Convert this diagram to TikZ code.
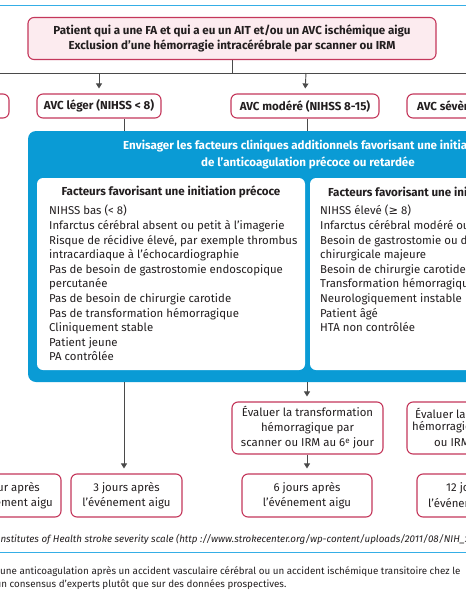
\documentclass[tikz,border=0pt]{standalone}
\usepackage{fontspec}
\setmainfont{Fira Sans}
\newfontfamily\symfont{DejaVu Sans}
\usetikzlibrary{arrows.meta}
\definecolor{crim}{HTML}{C4375B}
\definecolor{pinkf}{HTML}{FCEBEF}
\definecolor{bleu}{HTML}{0A9BD5}
\definecolor{lblue}{HTML}{35AEE6}
\definecolor{txt}{HTML}{231F20}
\definecolor{ln}{HTML}{4A4A4A}
\begin{document}
\begin{tikzpicture}[x=1pt,y=-1pt,
  box/.style={draw=crim, line width=1.1pt, rounded corners=6pt, fill=white, inner sep=0pt, align=center, text=txt},
  pinkbox/.style={box, fill=pinkf},
  conn/.style={draw=ln, line width=0.9pt},
  arr/.style={conn, -{Triangle[length=5pt,width=6pt]}, shorten >=5pt},
  lbl/.style={inner sep=0pt, text=txt},
  bf/.style={font=\fontsize{11.6}{15}\selectfont\bfseries},
  rg/.style={font=\fontsize{11.4}{15}\selectfont},
  hd/.style={lbl, bf},
  body/.style={lbl, align=left, font=\fontsize{11.4}{14.6}\selectfont},
  small/.style={lbl, rg},
  foot/.style={lbl, font=\fontsize{9.8}{13}\selectfont}]
\useasboundingbox (0,0) rectangle (466,600);
\clip (0,0) rectangle (466,600);
\fill[white] (0,0) rectangle (466,600);

% top rule
\coordinate (r0) at (0,5);
\coordinate (r1) at (466,5);
\draw[lblue, line width=1pt] (r0) -- (r1);

% top box
\node[pinkbox, bf, minimum width=408pt, minimum height=42pt] (top) at (232,38.5)
  {Patient qui a une FA et qui a eu un AIT et/ou un AVC ischémique aigu\\Exclusion d’une hémorragie intracérébrale par scanner ou IRM};

% horizontal bar
\coordinate (b0) at (0,73);
\coordinate (b1) at (466,73);
\coordinate (bT) at (232,73);
\coordinate (bL) at (99,73);
\coordinate (bM) at (306,73);
\draw[conn] (top.south) -- (bT);
\draw[conn] (b0) -- (b1);

% second row
\node[box, minimum width=70pt, minimum height=24pt] (ait) at (-26,106) {};
\node[box, bf, minimum width=124pt, minimum height=24pt] (leger) at (99,106) {AVC léger (NIHSS < 8)};
\node[box, bf, minimum width=148pt, minimum height=24pt] (modere) at (305,106) {AVC modéré (NIHSS 8-15)};
\node[box, minimum width=140pt, minimum height=24pt] (severe) at (477,106) {};
\node[hd, anchor=west] (severet) at (417,106) {AVC sévère};
\draw[arr] (bL) -- (leger.north);
\draw[arr] (bM) -- (modere.north);

% blue container
\node[fill=bleu, rounded corners=8pt, minimum width=572pt, minimum height=251pt, inner sep=0pt] (blue) at (314,256.5) {};
\node[hd, text=white, anchor=west] (bt1) at (123,146) {Envisager les facteurs cliniques additionnels favorisant une initiation};
\node[hd, text=white] (bt2) at (308,163) {de l’anticoagulation précoce ou retardée};

\coordinate (xL) at (124,0);
\coordinate (xM) at (307,0);
\draw[conn] (leger.south -| xL) -- (blue.north -| xL);
\draw[conn] (modere.south -| xM) -- (blue.north -| xM);

% white boxes
\node[fill=white, rounded corners=6pt, minimum width=268pt, minimum height=192pt, inner sep=0pt] (wl) at (171,274) {};
\node[fill=white, rounded corners=6pt, minimum width=290pt, minimum height=192pt, inner sep=0pt] (wr) at (455,274) {};
\node[hd] (hl) at (171,192) {Facteurs favorisant une initiation précoce};
\node[hd, anchor=west] (hr) at (328,192) {Facteurs favorisant une initiation};
\node[body, anchor=north west] (il) at (49,205) {NIHSS bas (< 8)\\
Infarctus cérébral absent ou petit à l’imagerie\\
Risque de récidive élevé, par exemple thrombus\\
intracardiaque à l’échocardiographie\\
Pas de besoin de gastrostomie endoscopique\\
percutanée\\
Pas de besoin de chirurgie carotide\\
Pas de transformation hémorragique\\
Cliniquement stable\\
Patient jeune\\
PA contrôlée};
\node[body, anchor=north west] (ir) at (320,205) {NIHSS élevé ({\symfont ≥} 8)\\
Infarctus cérébral modéré ou\\
Besoin de gastrostomie ou de\\
chirurgicale majeure\\
Besoin de chirurgie carotide\\
Transformation hémorragique\\
Neurologiquement instable\\
Patient âgé\\
HTA non contrôlée};

% lower part
\node[box, rg, minimum width=151pt, minimum height=52pt] (eval6) at (307.5,428)
  {Évaluer la transformation\\hémorragique par\\scanner ou IRM au 6\textsuperscript{e} jour};
\node[box, minimum width=151pt, minimum height=52pt] (eval12) at (482.5,428) {};
\node[small, anchor=west] (e12a) at (415,413) {Évaluer la};
\node[small, anchor=west] (e12b) at (412,427.5) {hémorragique};
\node[small, anchor=west] (e12c) at (434,443) {ou IRM};

\node[box, minimum width=131pt, minimum height=43pt] (j1) at (-4.5,495.5) {};
\node[small, anchor=east] (j1a) at (40,488) {jour après};
\node[small, anchor=east] (j1b) at (53,503) {l’événement aigu};
\node[box, rg, minimum width=111pt, minimum height=43pt] (j3) at (126.5,495.5) {3 jours après\\l’événement aigu};
\node[box, rg, minimum width=130pt, minimum height=43pt] (j6) at (307,495.5) {6 jours après\\l’événement aigu};
\node[box, minimum width=130pt, minimum height=43pt] (j12) at (482,495.5) {};
\node[small, anchor=west] (j12a) at (446,488) {12 jours};
\node[small, anchor=west] (j12b) at (428,503) {l’événement};

\draw[arr] (blue.south -| xL) -- (j3.north -| xL);
\draw[arr] (blue.south -| xM) -- (eval6.north -| xM);
\draw[arr] (eval6.south -| xM) -- (j6.north -| xM);

% footnotes
\node[foot, anchor=west, font=\fontsize{9.8}{13}\selectfont\itshape] (f1) at (-2.5,539) {Institutes of Health stroke severity scale (http ://www.strokecenter.org/wp-content/uploads/2011/08/NIH\_S};
\coordinate (s0) at (0,552);
\coordinate (s1) at (466,552);
\draw[lblue, line width=1pt] (s0) -- (s1);
\node[foot, anchor=west] (f2) at (0,572) {une anticoagulation après un accident vasculaire cérébral ou un accident ischémique transitoire chez le};
\node[foot, anchor=west] (f3) at (-4.5,585) {un consensus d’experts plutôt que sur des données prospectives.};
\end{tikzpicture}
\end{document}
